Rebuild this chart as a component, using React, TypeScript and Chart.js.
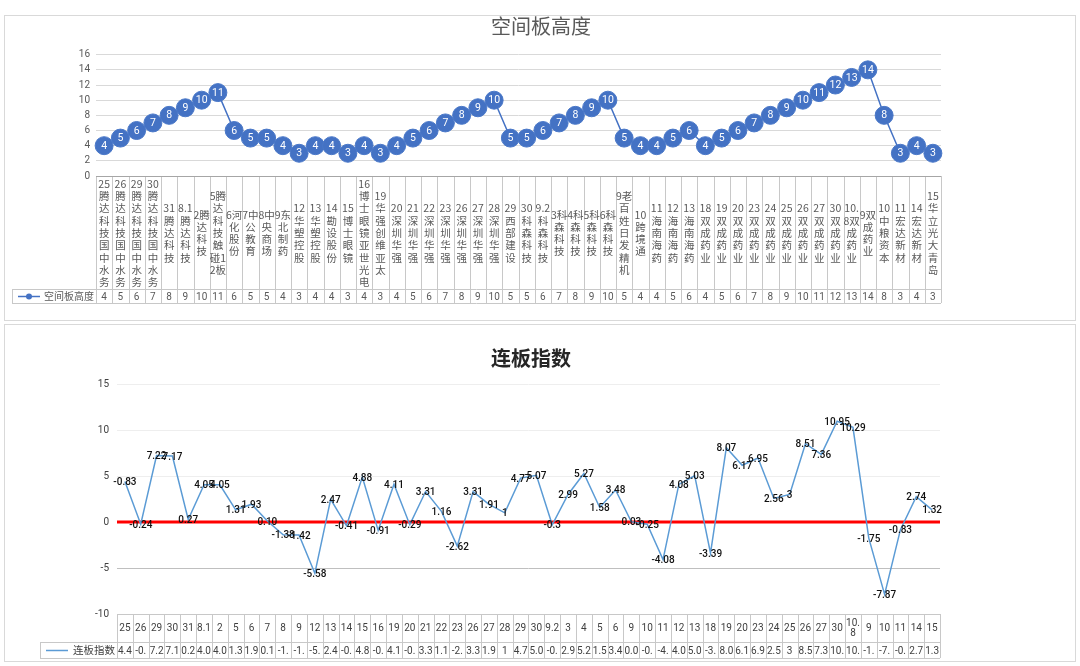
import React, { useEffect, useRef } from 'react';
import { Chart, registerables } from 'chart.js';

Chart.register(...registerables);

const dates = ['25','26','29','30','31','8.1','2','5','6','7','8','9','12','13','14','15','16','19','20','21','22','23','26','27','28','29','30','9.2','3','4','5','6','9','10','11','12','13','18','19','20','23','24','25','26','27','30','10.8','9','10','11','14','15'];

const stocks = ['腾达科技国中水务','腾达科技国中水务','腾达科技国中水务','腾达科技国中水务','腾达科技','腾达科技','腾达科技','腾达科技触碰12板','河化股份','中公教育','中央商场','东北制药','华塑控股','华塑控股','勘设股份','博士眼镜','博士眼镜亚世光电','华强创维亚太','深圳华强','深圳华强','深圳华强','深圳华强','深圳华强','深圳华强','深圳华强','西部建设','科森科技','科森科技','科森科技','科森科技','科森科技','科森科技','老百姓日发精机','跨境通','海南海药','海南海药','海南海药','双成药业','双成药业','双成药业','双成药业','双成药业','双成药业','双成药业','双成药业','双成药业','双成药业','双成药业','中粮资本','宏达新材','宏达新材','华立光大青岛'];

const heights = [4,5,6,7,8,9,10,11,6,5,5,4,3,4,4,3,4,3,4,5,6,7,8,9,10,5,5,6,7,8,9,10,5,4,4,5,6,4,5,6,7,8,9,10,11,12,13,14,8,3,4,3];

const lianbanValues = [4.4,-0.24,7.22,7.17,0.27,4.05,4.05,1.31,1.93,0.10,-1.38,-1.42,-5.58,2.47,-0.41,4.88,-0.91,4.11,-0.29,3.31,1.16,-2.62,3.31,1.91,1,4.77,5.07,-0.3,2.99,5.27,1.58,3.48,0.03,-0.25,-4.08,4.08,5.03,-3.39,8.07,6.17,6.95,2.56,3,8.51,7.36,10.95,10.29,-1.75,-7.87,-0.83,2.74,1.32];

const lianbanLabels = ['-0.83','-0.24','7.22','7.17','0.27','4.05','4.05','1.31','1.93','0.10','-1.38','-1.42','-5.58','2.47','-0.41','4.88','-0.91','4.11','-0.29','3.31','1.16','-2.62','3.31','1.91','1','4.77','5.07','-0.3','2.99','5.27','1.58','3.48','0.03','-0.25','-4.08','4.08','5.03','-3.39','8.07','6.17','6.95','2.56','3','8.51','7.36','10.95','10.29','-1.75','-7.87','-0.83','2.74','1.32'];

const heightCategories = dates.map((d, i) => d + stocks[i]);

const CJK = '"Noto Sans CJK SC", "Noto Sans", sans-serif';
const NUM = 'Roboto, "Noto Sans", sans-serif';
const BORDER = '#c8c8c8';

function wrapChars(ctx: CanvasRenderingContext2D, text: string, maxW: number): string[] {
  const lines: string[] = [];
  let cur = '';
  for (const ch of Array.from(text)) {
    const t = cur + ch;
    if (cur && ctx.measureText(t).width > maxW) {
      lines.push(cur);
      cur = ch;
    } else cur = t;
  }
  if (cur) lines.push(cur);
  return lines;
}

function truncate(ctx: CanvasRenderingContext2D, text: string, maxW: number): string {
  let t = text;
  while (t.length > 1 && ctx.measureText(t).width > maxW) t = t.slice(0, -1);
  return t;
}

function colEdges(chart: any) {
  const x = chart.scales.x;
  const n = chart.data.labels.length;
  const w = x.getPixelForValue(1) - x.getPixelForValue(0);
  const edges: number[] = [];
  for (let i = 0; i <= n; i++) edges.push(x.getPixelForValue(Math.min(i, n - 1)) + (i === n ? w / 2 : -w / 2));
  return { edges, w, n };
}

const topPlugin = {
  id: 'topTable',
  afterDraw(chart: any) {
    const ctx: CanvasRenderingContext2D = chart.ctx;
    const area = chart.chartArea;
    const { edges, n } = colEdges(chart);
    const rowTop = area.bottom;
    const rowMid = 273;
    const rowBot = 287;
    const legLeft = 7;
    ctx.save();
    // title
    ctx.fillStyle = '#595959';
    ctx.font = `20px ${CJK}`;
    ctx.textAlign = 'center';
    ctx.textBaseline = 'middle';
    ctx.fillText('空间板高度', 536, 10);
    // borders
    ctx.strokeStyle = BORDER;
    ctx.lineWidth = 1;
    ctx.beginPath();
    for (const e of edges) {
      const xx = Math.round(e) + 0.5;
      ctx.moveTo(xx, rowTop);
      ctx.lineTo(xx, rowBot);
    }
    ctx.moveTo(legLeft + 0.5, rowMid);
    ctx.lineTo(legLeft + 0.5, rowBot);
    ctx.moveTo(legLeft, rowMid + 0.5);
    ctx.lineTo(edges[n], rowMid + 0.5);
    ctx.moveTo(legLeft, rowBot + 0.5);
    ctx.lineTo(edges[n], rowBot + 0.5);
    ctx.stroke();
    // axis line
    ctx.strokeStyle = '#a6a6a6';
    ctx.beginPath();
    ctx.moveTo(area.left, Math.round(area.bottom) + 0.5);
    ctx.lineTo(area.right, Math.round(area.bottom) + 0.5);
    ctx.stroke();
    // category labels
    ctx.fillStyle = '#595959';
    ctx.font = `10.5px ${CJK}`;
    ctx.textAlign = 'center';
    ctx.textBaseline = 'middle';
    const lh = 12.3;
    chart.data.labels.forEach((lab: string, i: number) => {
      const cx = chart.scales.x.getPixelForValue(i);
      const lines = wrapChars(ctx, lab, 17.5);
      const total = lines.length * lh;
      const start = (rowTop + rowMid) / 2 - total / 2 + lh / 2 + 0.5;
      lines.forEach((ln, k) => ctx.fillText(ln, cx, start + k * lh));
    });
    // values row
    ctx.font = `10px ${NUM}`;
    heights.forEach((v, i) => {
      const cx = chart.scales.x.getPixelForValue(i);
      ctx.fillText(String(v), cx, (rowMid + rowBot) / 2 + 1);
    });
    // legend
    const ly = (rowMid + rowBot) / 2 + 0.5;
    ctx.strokeStyle = '#4472c4';
    ctx.lineWidth = 1.5;
    ctx.beginPath();
    ctx.moveTo(13, ly);
    ctx.lineTo(35, ly);
    ctx.stroke();
    ctx.fillStyle = '#4472c4';
    ctx.beginPath();
    ctx.arc(24, ly, 3, 0, Math.PI * 2);
    ctx.fill();
    ctx.fillStyle = '#595959';
    ctx.font = `10px ${CJK}`;
    ctx.textAlign = 'left';
    ctx.fillText('空间板高度', 39, ly);
    // data labels inside circles
    const meta = chart.getDatasetMeta(0);
    ctx.fillStyle = '#ffffff';
    ctx.font = `10.5px ${NUM}`;
    ctx.textAlign = 'center';
    meta.data.forEach((pt: any, i: number) => {
      ctx.fillText(String(heights[i]), pt.x, pt.y + 0.5);
    });
    ctx.restore();
  },
};

const bottomPlugin = {
  id: 'bottomTable',
  beforeDatasetsDraw(chart: any) {
    const ctx: CanvasRenderingContext2D = chart.ctx;
    const area = chart.chartArea;
    const y0 = chart.scales.y.getPixelForValue(0);
    ctx.save();
    ctx.strokeStyle = '#ff0000';
    ctx.lineWidth = 3;
    ctx.beginPath();
    ctx.moveTo(area.left, y0);
    ctx.lineTo(area.right, y0);
    ctx.stroke();
    ctx.restore();
  },
  afterDraw(chart: any) {
    const ctx: CanvasRenderingContext2D = chart.ctx;
    const area = chart.chartArea;
    const { edges, n } = colEdges(chart);
    const rowTop = Math.round(area.bottom);
    const rowMid = 317;
    const rowBot = 333;
    const legLeft = 35;
    ctx.save();
    ctx.fillStyle = '#262626';
    ctx.font = `bold 20px ${CJK}`;
    ctx.textAlign = 'center';
    ctx.textBaseline = 'middle';
    ctx.fillText('连板指数', 526, 33);
    ctx.strokeStyle = BORDER;
    ctx.lineWidth = 1;
    ctx.beginPath();
    for (const e of edges) {
      const xx = Math.round(e) + 0.5;
      ctx.moveTo(xx, rowTop);
      ctx.lineTo(xx, rowBot);
    }
    ctx.moveTo(edges[0], rowTop + 0.5);
    ctx.lineTo(edges[n], rowTop + 0.5);
    ctx.moveTo(legLeft + 0.5, rowMid);
    ctx.lineTo(legLeft + 0.5, rowBot);
    ctx.moveTo(legLeft, rowMid + 0.5);
    ctx.lineTo(edges[n], rowMid + 0.5);
    ctx.moveTo(legLeft, rowBot + 0.5);
    ctx.lineTo(edges[n], rowBot + 0.5);
    ctx.stroke();
    // header categories
    ctx.fillStyle = '#404040';
    ctx.font = `10px ${NUM}`;
    ctx.textAlign = 'center';
    ctx.textBaseline = 'middle';
    const lh = 10.5;
    chart.data.labels.forEach((lab: string, i: number) => {
      const cx = chart.scales.x.getPixelForValue(i);
      const lines = wrapChars(ctx, lab, 15);
      const total = lines.length * lh;
      const start = (rowTop + rowMid) / 2 - total / 2 + lh / 2 + 0.5;
      lines.forEach((ln, k) => ctx.fillText(ln, cx, start + k * lh));
    });
    lianbanValues.forEach((v, i) => {
      const cx = chart.scales.x.getPixelForValue(i);
      ctx.fillText(truncate(ctx, String(v), 15), cx, (rowMid + rowBot) / 2 + 1);
    });
    // legend
    const ly = (rowMid + rowBot) / 2 + 0.5;
    ctx.strokeStyle = '#5b9bd5';
    ctx.lineWidth = 1.5;
    ctx.beginPath();
    ctx.moveTo(41, ly);
    ctx.lineTo(63, ly);
    ctx.stroke();
    ctx.fillStyle = '#404040';
    ctx.font = `10.5px ${CJK}`;
    ctx.textAlign = 'left';
    ctx.fillText('连板指数', 68, ly);
    // data labels
    const meta = chart.getDatasetMeta(0);
    ctx.fillStyle = '#111111';
    ctx.font = `500 10px ${NUM}`;
    ctx.textAlign = 'center';
    meta.data.forEach((pt: any, i: number) => {
      ctx.fillText(lianbanLabels[i], pt.x, pt.y + 1);
    });
    ctx.restore();
  },
};

function TopChart() {
  const ref = useRef<HTMLCanvasElement>(null);
  useEffect(() => {
    const chart = new Chart(ref.current!, {
      type: 'line',
      data: {
        labels: heightCategories,
        datasets: [{
          label: '空间板高度',
          data: heights,
          borderColor: '#4472c4',
          borderWidth: 1.5,
          pointRadius: 9,
          pointBackgroundColor: '#4472c4',
          pointBorderColor: '#4a78c8',
          pointBorderWidth: 1,
          tension: 0,
        }],
      },
      options: {
        responsive: false,
        animation: false,
        events: [],
        layout: { padding: { left: 51, right: 134, top: 38.7, bottom: 144 } },
        plugins: { legend: { display: false }, tooltip: { enabled: false }, title: { display: false } },
        scales: {
          x: { type: 'category', display: false, offset: true },
          y: {
            min: 0, max: 16,
            ticks: { stepSize: 2, color: '#595959', font: { size: 10, family: NUM }, padding: 6 },
            grid: { color: '#d9d9d9', drawTicks: false },
            border: { display: false },
            afterFit: (s: any) => { s.width = 40; },
          },
        },
      },
      plugins: [topPlugin],
    } as any);
    return () => chart.destroy();
  }, []);
  return <canvas ref={ref} width={1070} height={304} style={{ display: 'block', width: 1070, height: 304 }} />;
}

function BottomChart() {
  const ref = useRef<HTMLCanvasElement>(null);
  useEffect(() => {
    const chart = new Chart(ref.current!, {
      type: 'line',
      data: {
        labels: dates,
        datasets: [{
          label: '连板指数',
          data: lianbanValues,
          borderColor: '#5b9bd5',
          borderWidth: 1.5,
          pointRadius: 0,
          tension: 0,
        }],
      },
      options: {
        responsive: false,
        animation: false,
        events: [],
        layout: { padding: { left: 72, right: 135, top: 59, bottom: 47 } },
        plugins: { legend: { display: false }, tooltip: { enabled: false }, title: { display: false } },
        scales: {
          x: { type: 'category', display: false, offset: true },
          y: {
            min: -10, max: 15,
            ticks: { stepSize: 5, color: '#404040', font: { size: 10, family: NUM }, padding: 8 },
            grid: {
              color: (c: any) => (c.tick && c.tick.value === -5 ? '#bfbfbf' : c.tick && c.tick.value === -10 ? 'rgba(0,0,0,0)' : '#eeeeee'),
              drawTicks: false,
            },
            border: { display: false },
            afterFit: (s: any) => { s.width = 40; },
          },
        },
      },
      plugins: [bottomPlugin],
    } as any);
    return () => chart.destroy();
  }, []);
  return <canvas ref={ref} width={1070} height={336} style={{ display: 'block', width: 1070, height: 336 }} />;
}

export default function App() {
  const panel: React.CSSProperties = {
    position: 'absolute',
    left: 4,
    width: 1070,
    border: '1px solid #d9d9d9',
    background: '#fff',
  };
  return (
    <div style={{ position: 'absolute', left: 0, top: 0, width: 1080, height: 666, background: '#fff' }}>
      <div style={{ ...panel, top: 15, height: 304 }}>
        <TopChart />
      </div>
      <div style={{ ...panel, top: 324, height: 336 }}>
        <BottomChart />
      </div>
    </div>
  );
}
